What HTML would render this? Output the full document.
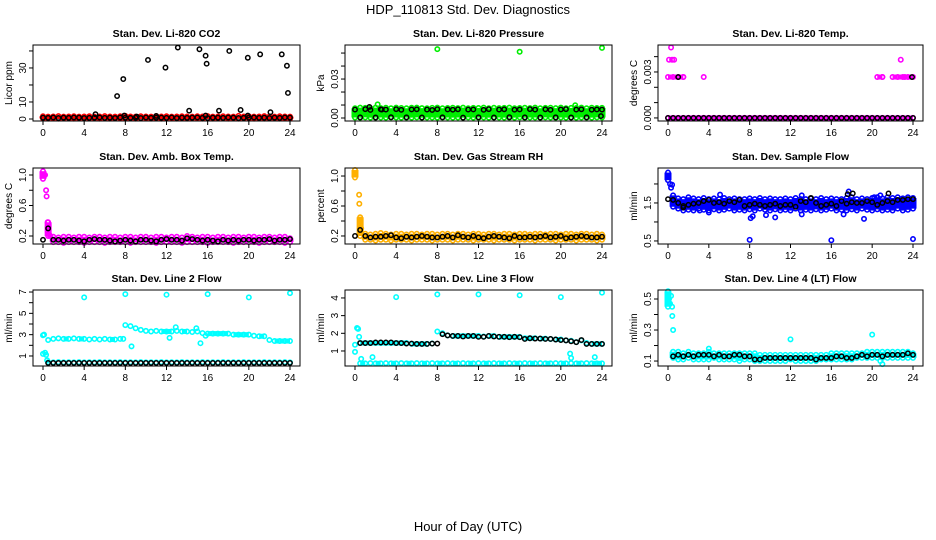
<!DOCTYPE html>
<html><head><meta charset="utf-8"><style>
html,body{margin:0;padding:0;background:#fff;}
svg{display:block;font-family:"Liberation Sans",Arial,sans-serif;}
</style></head><body>
<svg id="chart" width="936" height="540" viewBox="0 0 936 540" xmlns="http://www.w3.org/2000/svg">
<text x="468" y="14" text-anchor="middle" font-size="13">HDP_110813  Std. Dev. Diagnostics</text>
<text x="468" y="531" text-anchor="middle" font-size="13">Hour of Day (UTC)</text>
</svg>
<script>
// ---- data (sampled every 0.5 h, 0..24) ----
const co2Lo=[0.3,0.2,0.3,0.2,0.3,0.3,0.2,0.3,0.2,0.3,0.3,0.2,0.3,0.2,0.3,0.3,0.2,0.3,0.2,0.3,0.3,0.2,0.3,0.2,0.3,0.3,0.2,0.3,0.2,0.3,0.3,0.2,0.3,0.2,0.3,0.3,0.2,0.3,0.2,0.3,0.3,0.2,0.3,0.2,0.3,0.3,0.2,0.3,0.2];
const co2Hi=[1.6,1.4,1.5,1.7,1.4,1.5,1.6,1.4,1.5,1.6,1.4,1.5,1.7,1.5,1.4,1.6,1.8,1.5,1.4,1.6,1.5,1.4,1.7,1.5,1.6,1.4,1.5,1.6,1.5,1.4,1.6,1.5,1.7,1.4,1.5,1.6,1.5,1.4,1.8,1.5,1.6,1.4,1.5,1.7,1.5,1.4,1.6,1.5,1.4];
const co2Black=[0.8,0.7,0.9,0.6,0.8,0.7,0.9,0.8,0.6,0.7,0.8,0.9,0.7,0.8,0.6,0.9,0.8,0.7,0.8,0.6,0.9,0.7,0.8,0.8,0.7,0.9,0.6,0.8,0.7,0.8,0.9,0.7,0.6,0.8,0.8,0.7,0.9,0.8,0.6,0.7,0.8,0.9,0.7,0.8,0.6,0.8,0.7,0.9,0.8];
const co2OutT=[];const co2OutV=[];
const co2BOutT=[5.1,7.2,7.8,7.9,10.2,9.1,11,11.9,13.1,14.2,15.2,15.8,15.9,15.8,17.1,18.1,19.2,19.9,19.9,21.1,22.1,23.2,23.7,23.8];
const co2BOutV=[2.8,13.5,23.5,2,34.7,1.4,1.8,30.2,42,4.9,41,37.2,32.5,2,4.9,40,5.3,36,2,38,4,38,31.3,15.3];

const presLo=[0.0004,0.0003,0.0005,0.0003,0.0004,0.0004,0.0003,0.0005,0.0004,0.0003,0.0004,0.0003,0.0005,0.0003,0.0004,0.0004,0.0003,0.0005,0.0004,0.0003,0.0004,0.0003,0.0005,0.0003,0.0004,0.0004,0.0003,0.0005,0.0004,0.0003,0.0004,0.0003,0.0005,0.0003,0.0004,0.0004,0.0003,0.0005,0.0004,0.0003,0.0004,0.0003,0.0005,0.0003,0.0004,0.0004,0.0003,0.0005,0.0004];
const presHi=[0.0075,0.008,0.0078,0.0075,0.008,0.0076,0.0079,0.0075,0.008,0.0077,0.0075,0.0079,0.008,0.0076,0.0075,0.0078,0.008,0.0075,0.0077,0.0079,0.0076,0.008,0.0075,0.0078,0.0077,0.008,0.0075,0.0079,0.0076,0.0078,0.008,0.0075,0.0077,0.0079,0.0076,0.008,0.0075,0.0078,0.0079,0.0076,0.008,0.0075,0.0078,0.0077,0.008,0.0075,0.0079,0.0077,0.0078];
const presBlack=[0.0065,0.0005,0.0068,0.0062,0.0004,0.0067,0.0065,0.0006,0.0068,0.0063,0.0005,0.0066,0.0067,0.0004,0.0065,0.0062,0.0068,0.0005,0.0066,0.0064,0.0067,0.0003,0.0065,0.0066,0.0005,0.0063,0.0068,0.0004,0.0065,0.0067,0.0006,0.0064,0.0066,0.0005,0.0068,0.0065,0.0004,0.0067,0.0063,0.0005,0.0066,0.0068,0.0004,0.0065,0.0067,0.0005,0.0064,0.0066,0.0065];
const presOutT=[8,16,24,2.2,21.4,1.0];const presOutV=[0.053,0.051,0.054,0.0105,0.0098,0.0075];
const presBOutT=[1.4,2.6,23.9];const presBOutV=[0.0085,0.0065,0.0015];

const tempLo=[0,0,0,0,0,0,0,0,0,0,0,0,0,0,0,0,0,0,0,0,0,0,0,0,0,0,0,0,0,0,0,0,0,0,0,0,0,0,0,0,0,0,0,0,0,0,0,0,0];
const tempHi=[0.00267,0.00267,0.00267,0.00267,0,0,0,0,0,0,0,0,0,0,0,0,0,0,0,0,0,0,0,0,0,0,0,0,0,0,0,0,0,0,0,0,0,0,0,0,0,0.00267,0.00267,0,0.00267,0.00267,0.00267,0.00267,0.00267];
const tempBlack=[0,0,0,0,0,0,0,0,0,0,0,0,0,0,0,0,0,0,0,0,0,0,0,0,0,0,0,0,0,0,0,0,0,0,0,0,0,0,0,0,0,0,0,0,0,0,0,0,0];
const tempOutT=[0.1,0.3,0.4,0.6,1.0,1.5,3.5,21.0,22.8,23.2];const tempOutV=[0.0038,0.0046,0.0038,0.0038,0.00267,0.00267,0.00267,0.00267,0.0038,0.00267];
const tempBOutT=[1.0,23.9];const tempBOutV=[0.00267,0.00267];

const ambLo=[0.95,0.2,0.12,0.12,0.11,0.12,0.12,0.12,0.11,0.12,0.12,0.12,0.11,0.12,0.12,0.12,0.12,0.11,0.12,0.12,0.12,0.12,0.11,0.12,0.12,0.12,0.12,0.11,0.12,0.12,0.12,0.12,0.11,0.12,0.12,0.12,0.12,0.11,0.12,0.12,0.12,0.12,0.11,0.12,0.12,0.12,0.12,0.11,0.12];
const ambHi=[1.05,0.38,0.19,0.18,0.19,0.19,0.18,0.19,0.19,0.18,0.19,0.19,0.18,0.19,0.19,0.18,0.19,0.19,0.18,0.19,0.19,0.18,0.19,0.19,0.18,0.19,0.19,0.18,0.2,0.19,0.18,0.19,0.19,0.18,0.19,0.19,0.18,0.19,0.19,0.18,0.19,0.19,0.18,0.19,0.19,0.18,0.19,0.19,0.17];
const ambBlack=[0.15,0.3,0.15,0.15,0.14,0.15,0.15,0.14,0.13,0.15,0.16,0.15,0.15,0.14,0.13,0.14,0.15,0.14,0.13,0.15,0.15,0.14,0.13,0.15,0.16,0.15,0.15,0.14,0.17,0.16,0.15,0.14,0.15,0.14,0.13,0.15,0.14,0.15,0.14,0.15,0.15,0.14,0.15,0.15,0.16,0.14,0.15,0.15,0.16];
const ambOutT=[0.2,0.3,0.35,0.45,0.6,0.7];const ambOutV=[1.0,0.8,0.72,0.38,0.22,0.2];
const ambBOutT=[];const ambBOutV=[];

const rhLo=[0.98,0.2,0.15,0.15,0.14,0.15,0.15,0.14,0.15,0.15,0.15,0.14,0.15,0.15,0.15,0.14,0.15,0.15,0.15,0.14,0.15,0.15,0.15,0.14,0.15,0.15,0.15,0.14,0.15,0.15,0.15,0.14,0.15,0.15,0.15,0.14,0.15,0.15,0.15,0.14,0.15,0.15,0.15,0.14,0.15,0.15,0.15,0.14,0.15];
const rhHi=[1.08,0.45,0.23,0.22,0.23,0.24,0.23,0.22,0.23,0.23,0.22,0.23,0.23,0.22,0.23,0.23,0.22,0.23,0.23,0.22,0.23,0.23,0.22,0.23,0.23,0.22,0.23,0.23,0.22,0.23,0.23,0.22,0.23,0.23,0.22,0.23,0.23,0.22,0.23,0.23,0.22,0.23,0.23,0.22,0.23,0.23,0.22,0.23,0.22];
const rhBlack=[0.2,0.28,0.2,0.18,0.19,0.19,0.2,0.21,0.18,0.17,0.19,0.18,0.19,0.2,0.19,0.18,0.18,0.19,0.2,0.18,0.21,0.19,0.18,0.2,0.18,0.17,0.19,0.2,0.19,0.18,0.17,0.2,0.18,0.18,0.19,0.18,0.19,0.2,0.18,0.19,0.2,0.17,0.18,0.19,0.2,0.19,0.18,0.18,0.19];
const rhOutT=[0.4,0.42,0.5,0.6];const rhOutV=[0.75,0.63,0.42,0.3];
const rhBOutT=[];const rhBOutV=[];

const sfLo=[2.1,1.4,1.35,1.3,1.32,1.3,1.35,1.32,1.3,1.33,1.3,1.32,1.35,1.3,1.32,1.3,1.33,1.3,1.35,1.32,1.3,1.33,1.3,1.32,1.3,1.35,1.3,1.32,1.3,1.33,1.3,1.32,1.35,1.3,1.32,1.3,1.33,1.3,1.35,1.32,1.3,1.33,1.3,1.32,1.3,1.35,1.3,1.32,1.35];
const sfHi=[2.3,1.7,1.62,1.6,1.65,1.62,1.6,1.63,1.6,1.62,1.6,1.63,1.6,1.62,1.6,1.6,1.62,1.6,1.63,1.6,1.62,1.6,1.6,1.62,1.6,1.63,1.6,1.6,1.62,1.6,1.63,1.6,1.62,1.6,1.6,1.63,1.65,1.6,1.62,1.6,1.63,1.65,1.62,1.65,1.63,1.65,1.62,1.65,1.63];
const sfBlack=[1.6,1.58,1.5,1.42,1.45,1.48,1.5,1.55,1.58,1.5,1.52,1.48,1.55,1.52,1.58,1.42,1.45,1.48,1.45,1.42,1.45,1.48,1.42,1.45,1.45,1.4,1.55,1.52,1.63,1.5,1.42,1.45,1.48,1.42,1.55,1.48,1.52,1.5,1.5,1.55,1.52,1.45,1.5,1.55,1.52,1.58,1.58,1.6,1.6];
const sfOutT=[0.2,0.3,8,16,24,8.1,8.3,10.5,9.6,19.2,13.1,17.2,17.7,20.8,4,3.1,5.1,13.1,20.2,0.4];
const sfOutV=[2.0,1.9,0.53,0.52,0.55,1.1,1.15,1.12,1.18,1.08,1.2,1.2,1.8,1.7,1.25,1.3,1.72,1.7,1.65,1.98];
const sfBOutT=[17.6,18.1,21.6,14,1.5];const sfBOutV=[1.73,1.75,1.75,1.63,1.38];

const l2Lo=[1.2,0.42,0.4,0.42,0.4,0.41,0.4,0.42,0.4,0.41,0.4,0.42,0.4,0.41,0.4,0.42,0.4,0.41,0.4,0.42,0.4,0.41,0.4,0.42,0.4,0.41,0.4,0.42,0.4,0.41,0.4,0.42,0.4,0.41,0.4,0.42,0.4,0.41,0.4,0.42,0.4,0.41,0.4,0.42,0.4,0.41,0.4,0.42,0.4];
const l2Hi=[2.95,2.5,2.6,2.65,2.6,2.6,2.65,2.6,2.6,2.55,2.6,2.55,2.6,2.55,2.55,2.6,3.9,3.8,3.6,3.45,3.35,3.3,3.35,3.3,3.3,3.3,3.35,3.3,3.3,3.25,3.3,3.15,3.1,3.1,3.1,3.1,3.1,3.0,3.0,3.0,3.0,2.9,2.85,2.85,2.5,2.4,2.4,2.4,2.4];
const l2Black=[0.35,0.35,0.35,0.35,0.35,0.35,0.35,0.35,0.35,0.35,0.35,0.35,0.35,0.35,0.35,0.35,0.35,0.35,0.35,0.35,0.35,0.35,0.35,0.35,0.35,0.35,0.35,0.35,0.35,0.35,0.35,0.35,0.35,0.35,0.35,0.35,0.35,0.35,0.35,0.35,0.35,0.35,0.35,0.35,0.35,0.35,0.35,0.35,0.35];
const l2OutT=[4,8,12,16,20,24,0.1,0.2,0.4,8.6,15.3,12.3,15.8,12.9,14.9,7.8,0.3];
const l2OutV=[6.5,6.8,6.75,6.8,6.5,6.9,3.0,1.3,0.6,1.9,2.2,2.7,2.9,3.7,3.6,2.6,1.1];
const l2BOutT=[];const l2BOutV=[];

const l3Lo=[0.95,0.3,0.3,0.31,0.3,0.3,0.31,0.3,0.3,0.31,0.3,0.3,0.31,0.3,0.3,0.31,0.3,0.3,0.31,0.3,0.3,0.31,0.3,0.3,0.31,0.3,0.3,0.31,0.3,0.3,0.31,0.3,0.3,0.31,0.3,0.3,0.31,0.3,0.3,0.31,0.3,0.3,0.31,0.3,0.3,0.31,0.3,0.3,0.3];
const l3Hi=[1.35,1.45,1.45,1.45,1.45,1.45,1.45,1.45,1.45,1.45,1.45,1.4,1.4,1.4,1.4,1.42,2.1,2.0,1.88,1.85,1.85,1.85,1.85,1.85,1.85,1.82,1.85,1.85,1.8,1.8,1.8,1.8,1.8,1.72,1.72,1.72,1.7,1.7,1.68,1.65,1.65,1.6,1.58,1.5,1.6,1.45,1.4,1.4,1.4];
const l3Black=[1.45,1.45,1.45,1.45,1.48,1.48,1.48,1.48,1.45,1.45,1.42,1.42,1.4,1.4,1.4,1.42,1.42,1.95,1.88,1.85,1.85,1.82,1.85,1.85,1.8,1.8,1.85,1.82,1.8,1.8,1.78,1.8,1.78,1.68,1.72,1.7,1.7,1.68,1.68,1.65,1.62,1.6,1.55,1.5,1.62,1.4,1.4,1.4,1.4];
const l3OutT=[4,8,12,16,20,24,0.2,0.3,0.4,0.6,1.7,20.9,21,23.3];
const l3OutV=[4.05,4.2,4.2,4.15,4.05,4.3,2.3,2.25,1.8,0.55,0.65,0.85,0.6,0.65];
const l3BOutT=[];const l3BOutV=[];

const l4Lo=[0.45,0.12,0.11,0.11,0.12,0.11,0.11,0.11,0.11,0.12,0.11,0.11,0.11,0.11,0.1,0.11,0.11,0.1,0.1,0.1,0.1,0.1,0.1,0.1,0.11,0.1,0.1,0.1,0.1,0.1,0.11,0.11,0.11,0.11,0.11,0.11,0.11,0.12,0.12,0.12,0.12,0.12,0.12,0.12,0.12,0.12,0.12,0.12,0.12];
const l4Hi=[0.55,0.16,0.16,0.15,0.16,0.15,0.15,0.15,0.16,0.15,0.15,0.15,0.15,0.15,0.15,0.15,0.15,0.15,0.14,0.14,0.14,0.14,0.14,0.14,0.14,0.14,0.14,0.14,0.14,0.14,0.14,0.14,0.15,0.15,0.15,0.15,0.15,0.15,0.15,0.16,0.16,0.16,0.16,0.16,0.16,0.16,0.16,0.16,0.15];
const l4Black=[0.13,0.13,0.14,0.13,0.14,0.13,0.14,0.14,0.14,0.13,0.14,0.13,0.13,0.14,0.14,0.13,0.13,0.11,0.11,0.12,0.12,0.12,0.12,0.12,0.12,0.12,0.12,0.12,0.12,0.11,0.12,0.12,0.12,0.13,0.13,0.12,0.12,0.13,0.14,0.13,0.14,0.14,0.13,0.14,0.14,0.14,0.14,0.15,0.14];
const l4OutT=[0.1,0.2,0.3,0.4,0.42,0.5,4,12,20,21,20.8];
const l4OutV=[0.5,0.47,0.52,0.45,0.39,0.3,0.18,0.24,0.27,0.08,0.1];
const l4BOutT=[];const l4BOutV=[];

const xTickVals=[0,4,8,12,16,20,24];
const xTickLabels=["0","4","8","12","16","20","24"];

// ---- layout ----
const NS="http://www.w3.org/2000/svg";
const svg=document.getElementById('chart');
const hours=[];for(let i=0;i<49;i++)hours.push(i*0.5);
const colBox=[[33,300],[345,612],[658,923]];
const rowBox=[[45,121],[168,244],[290,366]];

const panels=[
 {id:'co2',title:'Stan. Dev. Li-820 CO2',ylab:'Licor ppm',c:0,r:0,ylim:[-1.18,43.5],ticks:[0,10,20,30,40],labs:['0','10','','30',''],col:'#ff0000',lo:co2Lo,hi:co2Hi,blk:co2Black,ot:co2OutT,ov:co2OutV,bt:co2BOutT,bv:co2BOutV,fill:true},
 {id:'pressure',title:'Stan. Dev. Li-820 Pressure',ylab:'kPa',c:1,r:0,ylim:[-0.0023,0.0562],ticks:[0,0.01,0.02,0.03,0.04,0.05],labs:['0.00','','','0.03','',''],col:'#00ee00',lo:presLo,hi:presHi,blk:presBlack,ot:presOutT,ov:presOutV,bt:presBOutT,bv:presBOutV,fill:true},
 {id:'temp',title:'Stan. Dev. Li-820 Temp.',ylab:'degrees C',c:2,r:0,ylim:[-0.0002,0.00476],ticks:[0,0.001,0.002,0.003,0.004],labs:['0.000','','','0.003',''],col:'#ff00ff',lo:tempLo,hi:tempHi,blk:tempBlack,ot:tempOutT,ov:tempOutV,bt:tempBOutT,bv:tempBOutV,fill:false},
 {id:'amb-box',title:'Stan. Dev. Amb. Box Temp.',ylab:'degrees C',c:0,r:1,ylim:[0.095,1.092],ticks:[0.2,0.4,0.6,0.8,1.0],labs:['0.2','','0.6','','1.0'],col:'#ff00ff',lo:ambLo,hi:ambHi,blk:ambBlack,ot:ambOutT,ov:ambOutV,bt:ambBOutT,bv:ambBOutV,fill:true},
 {id:'gas-rh',title:'Stan. Dev. Gas Stream RH',ylab:'percent',c:1,r:1,ylim:[0.093,1.107],ticks:[0.2,0.4,0.6,0.8,1.0],labs:['0.2','','0.6','','1.0'],col:'#ffb000',lo:rhLo,hi:rhHi,blk:rhBlack,ot:rhOutT,ov:rhOutV,bt:rhBOutT,bv:rhBOutV,fill:true},
 {id:'sample-flow',title:'Stan. Dev. Sample Flow',ylab:'ml/min',c:2,r:1,ylim:[0.42,2.42],ticks:[0.5,1,1.5,2],labs:['0.5','','1.5',''],col:'#0000ff',lo:sfLo,hi:sfHi,blk:sfBlack,ot:sfOutT,ov:sfOutV,bt:sfBOutT,bv:sfBOutV,fill:true},
 {id:'line2',title:'Stan. Dev. Line 2 Flow',ylab:'ml/min',c:0,r:2,ylim:[0.06,7.19],ticks:[1,2,3,4,5,6,7],labs:['1','','3','','5','','7'],col:'#00ffff',lo:l2Lo,hi:l2Hi,blk:l2Black,ot:l2OutT,ov:l2OutV,bt:l2BOutT,bv:l2BOutV,fill:false},
 {id:'line3',title:'Stan. Dev. Line 3 Flow',ylab:'ml/min',c:1,r:2,ylim:[0.15,4.45],ticks:[1,2,3,4],labs:['1','2','3','4'],col:'#00ffff',lo:l3Lo,hi:l3Hi,blk:l3Black,ot:l3OutT,ov:l3OutV,bt:l3BOutT,bv:l3BOutV,fill:false},
 {id:'line4',title:'Stan. Dev. Line 4 (LT) Flow',ylab:'ml/min',c:2,r:2,ylim:[0.068,0.558],ticks:[0.1,0.2,0.3,0.4,0.5],labs:['0.1','','0.3','','0.5'],col:'#00ffff',lo:l4Lo,hi:l4Hi,blk:l4Black,ot:l4OutT,ov:l4OutV,bt:l4BOutT,bv:l4BOutV,fill:true}
];

function mk(tag,attrs,parent){const e=document.createElementNS(NS,tag);for(const k in attrs)e.setAttribute(k,attrs[k]);(parent||svg).appendChild(e);return e;}

panels.forEach(p=>{
  const L=colBox[p.c][0],R=colBox[p.c][1],T=rowBox[p.r][0],B=rowBox[p.r][1];
  const x0=L+10,x24=R-10;
  const X=t=>x0+t*(x24-x0)/24;
  const Y=v=>B-(v-p.ylim[0])*(B-T)/(p.ylim[1]-p.ylim[0]);
  const g=mk('g',{});
  
  
  const tt=mk('text',{x:(L+R)/2,y:T-8,'text-anchor':'middle','font-size':'10.5','font-weight':'bold'},g);
  tt.textContent=p.title;
  
  
  const pts=mk('g',{fill:'none','stroke-width':'1.6'},g);
  
  
  hours.forEach((t,i)=>{
    if(p.fill){
      const band=mk('line',{x1:X(t),x2:X(t),y1:Y(p.hi[i]),y2:Y(p.lo[i]),stroke:p.col,'stroke-width':'7'},pts);
      
      
    }
    [p.lo[i],p.hi[i]].forEach(v=>{
      const c=mk('circle',{cx:X(t),cy:Y(v),r:2.2,stroke:p.col},pts);
      
      
    });
    if(!p.fill && i<48){
      [p.lo,p.hi].forEach(arr=>{
        if(Math.abs(arr[i]-arr[i+1])<1e-9){
          const ln=mk('line',{x1:X(t),x2:X(hours[i+1]),y1:Y(arr[i]),y2:Y(arr[i]),stroke:p.col,'stroke-width':'5'},pts);
          
          
        }
      });
    }
  });
  p.ot.forEach((t,i)=>{
    const c=mk('circle',{cx:X(t),cy:Y(p.ov[i]),r:2.2,stroke:p.col},pts);
    
    
  });
  hours.forEach((t,i)=>{
    if(i===0 && p.r===2) return;
    const c=mk('circle',{cx:X(t),cy:Y(p.blk[i]),r:2.2,stroke:'#000','stroke-width':'1.5'},pts);
    
    
  });
  p.bt.forEach((t,i)=>{
    const c=mk('circle',{cx:X(t),cy:Y(p.bv[i]),r:2.2,stroke:'#000','stroke-width':'1.5'},pts);
    
    
  });
  const box=mk('rect',{x:L,y:T,width:R-L,height:B-T,fill:'none',stroke:'#000','stroke-width':'1'},g);
  
  
  xTickVals.forEach((v,i)=>{
    mk('line',{x1:X(v),x2:X(v),y1:B,y2:B+4,stroke:'#000'},g);
    const tl=mk('text',{x:X(v),y:B+15,'text-anchor':'middle','font-size':'10'},g);
    tl.textContent=xTickLabels[i];
    
    
  });
  p.ticks.forEach((v,i)=>{
    mk('line',{x1:L,x2:L-4,y1:Y(v),y2:Y(v),stroke:'#000'},g);
    if(p.labs[i]){
      const tl=mk('text',{x:0,y:0,'text-anchor':'middle','font-size':'10',transform:`translate(${L-7},${Y(v)}) rotate(-90)`},g);
      tl.textContent=p.labs[i];
      
      
    }
  });
  const yl=mk('text',{x:0,y:0,'text-anchor':'middle','font-size':'10',transform:`translate(${L-21},${(T+B)/2}) rotate(-90)`},g);
  yl.textContent=p.ylab;
  
  
});
</script>
</body></html>
